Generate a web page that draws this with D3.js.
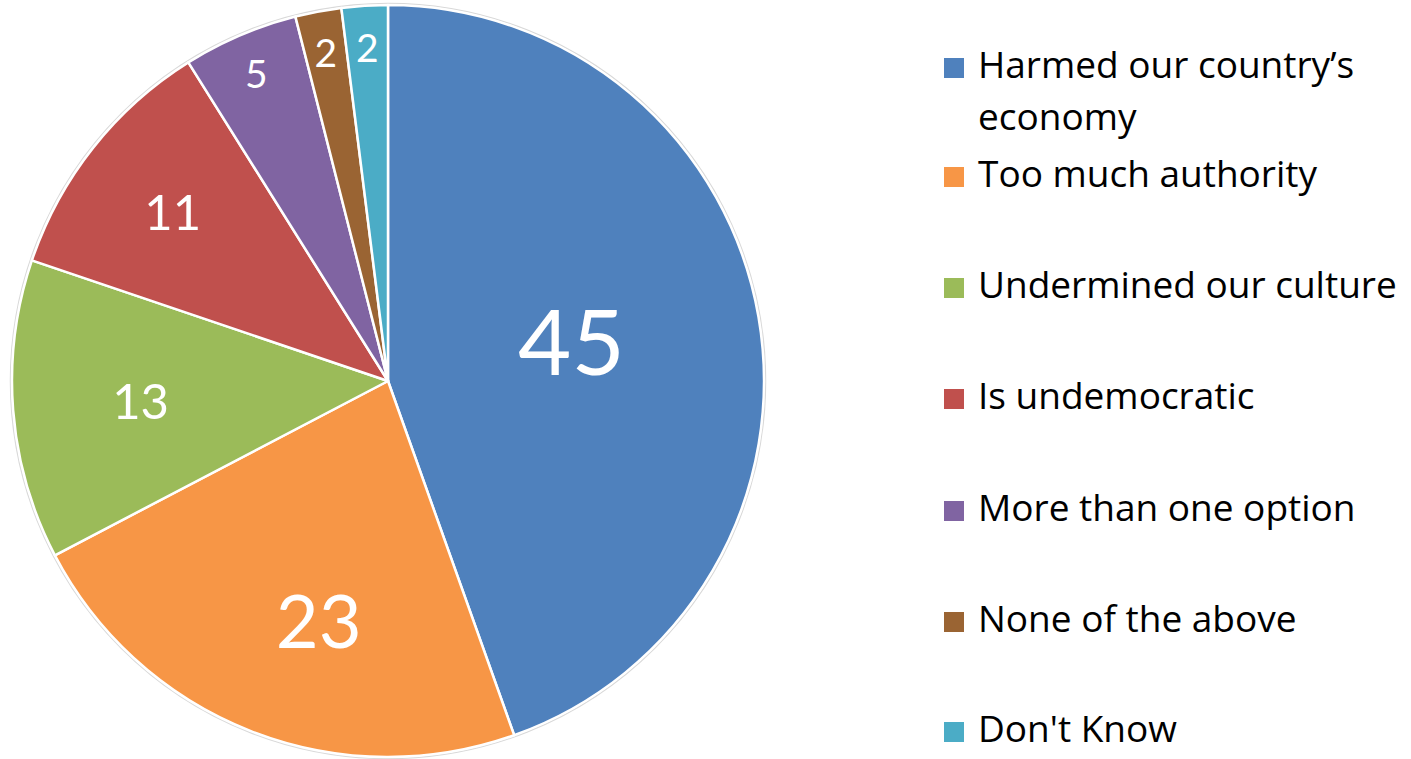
<!DOCTYPE html>
<html>
<head>
<meta charset="utf-8">
<script src="https://cdn.jsdelivr.net/npm/d3@7"></script>
<style>
  html, body { margin: 0; padding: 0; background: #fff; }
  svg { display: block; }
</style>
</head>
<body>
<svg id="chart" width="1411" height="759"></svg>
<script>
const categories = [
  "Harmed our country\u2019s economy",
  "Too much authority",
  "Undermined our culture",
  "Is undemocratic",
  "More than one option",
  "None of the above",
  "Don't Know"
];
const values = [45, 23, 13, 11, 5, 2, 2];
const colors = ["#4F81BD", "#F79646", "#9BBB59", "#C0504D", "#8064A2", "#9A6433", "#4BACC6"];

const svg = d3.select("#chart");
const cx = 388, cy = 381, R = 376;
const labelFont = "Lato, 'Open Sans', sans-serif";
const legendFont = "'Open Sans', Lato, sans-serif";

const data = categories.map((c, i) => ({ name: c, value: values[i], color: colors[i] }));

const pie = d3.pie().value(d => d.value).sort(null);
const arcs = pie(data);
const arc = d3.arc().innerRadius(0).outerRadius(R);

const g = svg.append("g").attr("transform", `translate(${cx},${cy})`);

g.append("circle").attr("r", R + 1.5).attr("fill", "none").attr("stroke", "#d9d9d9").attr("stroke-width", 1.5);

g.selectAll("path.slice")
  .data(arcs)
  .enter().append("path")
  .attr("class", "slice")
  .attr("d", arc)
  .attr("fill", d => d.data.color)
  .attr("stroke", "#fff")
  .attr("stroke-width", 2.5)
  .attr("stroke-linejoin", "round");

// best-fit style label placement: radius fraction, angular nudge (rad), font size
function labelStyle(v) {
  if (v >= 40) return { r: 0.50, da: -0.05, fs: 92 };
  if (v >= 20) return { r: 0.66, da: -0.09, fs: 74 };
  if (v >= 12) return { r: 0.66, da: 0, fs: 49 };
  if (v >= 8) return { r: 0.73, da: 0, fs: 49 };
  return { r: 0.89, da: 0, fs: 39 };
}

g.selectAll("text.lbl")
  .data(arcs)
  .enter().append("text")
  .attr("class", "lbl")
  .attr("transform", d => {
    const s = labelStyle(d.data.value);
    const a = (d.startAngle + d.endAngle) / 2 + s.da;
    const r = R * s.r;
    return `translate(${r * Math.sin(a)},${-r * Math.cos(a)})`;
  })
  .attr("text-anchor", "middle")
  .attr("dominant-baseline", "central")
  .attr("fill", "#fff")
  .attr("font-family", labelFont)
  .attr("font-size", d => labelStyle(d.data.value).fs)
  .text(d => d.data.value);

// legend
const baselines = [78, 187, 298, 409, 521, 632, 742];
const lg = svg.append("g");
data.forEach((d, i) => {
  const y = baselines[i];
  lg.append("rect")
    .attr("x", 944).attr("y", y - 20)
    .attr("width", 20).attr("height", 20)
    .attr("fill", d.color);
  const t = lg.append("text")
    .attr("x", 978).attr("y", y)
    .attr("font-family", legendFont)
    .attr("font-size", 37)
    .attr("fill", "#000");
  if (i === 0) {
    t.append("tspan").attr("x", 978).attr("y", y).text("Harmed our country\u2019s");
    t.append("tspan").attr("x", 978).attr("y", y + 52).text("economy");
  } else {
    t.text(d.name);
  }
});
</script>
</body>
</html>
